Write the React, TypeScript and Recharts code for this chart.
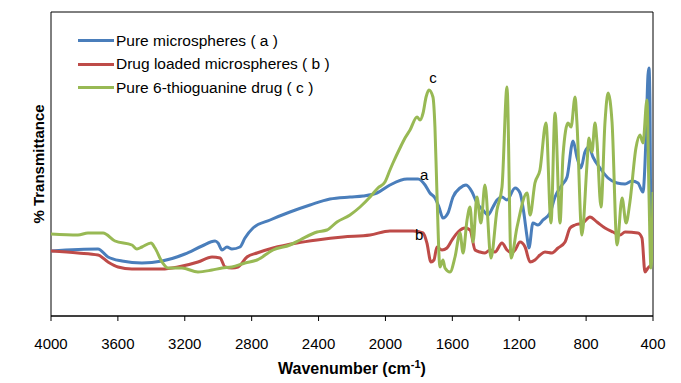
import React from "react";
import {
  LineChart,
  Line,
  XAxis,
  YAxis,
  Legend,
  ReferenceArea,
  ReferenceDot,
} from "recharts";

// wavenumber (cm-1) and transmittance (arbitrary units)
const xTicks = [4000, 3600, 3200, 2800, 2400, 2000, 1600, 1200, 800, 400];

const pureWn = [
  4000, 3719, 3659, 3575, 3456, 3336, 3199, 3097, 3019, 3001, 2977, 2948, 2918,
  2870, 2840, 2792, 2690, 2571, 2451, 2332, 2212, 2134, 2051, 1973, 1871, 1805,
  1763, 1734, 1704, 1680, 1656, 1626, 1596, 1554, 1518, 1482, 1453, 1417, 1387,
  1357, 1333, 1303, 1273, 1225, 1195, 1175, 1153, 1142, 1118, 1088, 1058, 1016,
  986, 944, 914, 878, 855, 831, 807, 783, 759, 717, 669, 615, 567, 526, 490,
  460, 442, 430, 424, 418, 412,
];
const pureT = [
  65, 67, 59, 55, 53, 55, 62, 70, 75, 73, 66, 69, 67, 69, 78, 88, 96, 104, 111,
  117, 119, 120, 123, 131, 137, 137, 131, 123, 118, 109, 98, 103, 119, 128, 131,
  124, 113, 106, 101, 109, 116, 119, 116, 128, 123, 106, 79, 68, 93, 91, 96,
  103, 119, 131, 139, 175, 159, 148, 164, 169, 159, 148, 138, 133, 132, 135,
  133, 124, 178, 241, 248, 211, 58,
];

const loadedWn = [
  4000, 3839, 3719, 3659, 3599, 3516, 3336, 3241, 3121, 3037, 2989, 2959, 2918,
  2882, 2828, 2768, 2672, 2529, 2409, 2254, 2092, 1973, 1835, 1775, 1752, 1728,
  1710, 1692, 1662, 1632, 1602, 1566, 1524, 1494, 1464, 1435, 1405, 1375, 1345,
  1303, 1273, 1243, 1225, 1195, 1165, 1135, 1106, 1076, 1046, 1004, 968, 926,
  896, 866, 819, 777, 735, 687, 639, 597, 567, 490, 466, 448, 430, 412,
];
const loadedT = [
  65, 63, 61, 54, 49, 47, 47, 49, 54, 59, 58, 49, 48, 49, 59, 63, 68, 73, 76,
  79, 81, 85, 85, 83, 73, 54, 56, 69, 66, 68, 76, 84, 88, 86, 66, 64, 63, 66,
  64, 73, 66, 63, 66, 74, 69, 54, 56, 61, 64, 63, 68, 74, 88, 91, 93, 99, 94,
  88, 84, 81, 84, 83, 78, 44, 48, 51,
];

const drugWn = [
  4000, 3839, 3779, 3689, 3617, 3516, 3486, 3456, 3402, 3378, 3336, 3300, 3217,
  3121, 3037, 2977, 2918, 2840, 2768, 2672, 2571, 2511, 2409, 2350, 2290, 2212,
  2152, 2092, 2045, 2003, 1973, 1955, 1913, 1883, 1853, 1811, 1793, 1775, 1757,
  1740, 1716, 1704, 1692, 1674, 1656, 1644, 1614, 1584, 1554, 1536, 1512, 1494,
  1476, 1453, 1429, 1405, 1369, 1333, 1303, 1273, 1249, 1213, 1153, 1135, 1106,
  1076, 1040, 1010, 986, 956, 938, 908, 890, 866, 855, 825, 795, 783, 765, 747,
  735, 711, 687, 669, 645, 615, 585, 561, 538, 502, 478, 460, 436, 424, 412,
  400,
];
const drugT = [
  82, 81, 83, 83, 75, 71, 67, 69, 73, 68, 54, 48, 48, 44, 46, 48, 49, 53, 56,
  66, 71, 76, 84, 86, 94, 101, 109, 119, 128, 134, 146, 153, 168, 178, 186, 199,
  196, 203, 219, 226, 219, 189, 123, 49, 56, 48, 44, 59, 83, 63, 96, 109, 74,
  119, 93, 131, 58, 106, 129, 229, 58, 89, 123, 101, 133, 146, 193, 93, 203, 93,
  161, 193, 189, 219, 194, 81, 151, 178, 164, 193, 174, 109, 194, 223, 194, 71,
  118, 93, 114, 168, 181, 173, 216, 121, 48, 124,
];

const toPoints = (wn: number[], t: number[]) =>
  wn.map((w, i) => ({ wn: w, t: t[i] }));

const series = [
  { name: "Pure microspheres ( a )", color: "#4A7EBB", data: toPoints(pureWn, pureT) },
  { name: "Drug loaded microspheres ( b )", color: "#BE4B48", data: toPoints(loadedWn, loadedT) },
  { name: "Pure 6-thioguanine drug ( c )", color: "#98B954", data: toPoints(drugWn, drugT) },
];

const peakLabels = [
  { text: "c", wn: 1716, t: 238 },
  { text: "a", wn: 1769, t: 141 },
  { text: "b", wn: 1799, t: 81 },
];

const FONT = "'Liberation Sans', Arial, sans-serif";

function LegendBox() {
  return (
    <div style={{ fontFamily: FONT, fontSize: 15.5, textAlign: "left" }}>
      {series.map((s) => (
        <div key={s.name} style={{ display: "flex", alignItems: "center", height: 23.5 }}>
          <div style={{ width: 36, height: 3, background: s.color, marginRight: 2 }} />
          <span style={{ color: "#000" }}>{s.name}</span>
        </div>
      ))}
    </div>
  );
}

export default function App() {
  return (
    <div style={{ position: "relative", width: 681, height: 383, background: "#fff" }}>
      <style>{`body{margin:0}`}</style>
      <LineChart
        width={681}
        height={383}
        margin={{ top: 12, right: 28, left: 51, bottom: 37 }}
      >
        <XAxis
          type="number"
          dataKey="wn"
          domain={[400, 4000]}
          reversed
          ticks={xTicks}
          interval={0}
          allowDataOverflow
          axisLine={{ stroke: "#000", strokeWidth: 1 }}
          tickLine={{ stroke: "#000" }}
          tickSize={5}
          tickMargin={17}
          height={30}
          tick={{ fill: "#000", fontSize: 15, fontFamily: FONT }}
        />
        <YAxis type="number" domain={[0, 304]} hide allowDataOverflow />
        <ReferenceArea
          x1={4000}
          x2={400}
          y1={0}
          y2={304}
          fill="none"
          stroke="#000"
          strokeWidth={1}
          ifOverflow="visible"
        />
        <Legend
          content={() => <LegendBox />}
          layout="horizontal"
          align="center"
          verticalAlign="middle"
          wrapperStyle={{ left: 78, top: 29, width: 290 }}
        />
        {series.map((s) => (
          <Line
            key={s.name}
            data={s.data}
            dataKey="t"
            name={s.name}
            type="monotone"
            stroke={s.color}
            strokeWidth={3}
            dot={false}
            activeDot={false}
            isAnimationActive={false}
          />
        ))}
        {peakLabels.map((p) => (
          <ReferenceDot
            key={p.text}
            x={p.wn}
            y={p.t}
            r={0}
            fill="none"
            stroke="none"
            label={{ value: p.text, position: "center", fill: "#000", fontSize: 15, fontFamily: FONT }}
          />
        ))}
        <text
          x={38}
          y={164}
          transform="rotate(-90 38 164)"
          textAnchor="middle"
          dominantBaseline="central"
          fontFamily={FONT}
          fontWeight="bold"
          fontSize={15}
          fill="#000"
        >
          % Transmittance
        </text>
        <text
          x={352}
          y={374}
          textAnchor="middle"
          fontFamily={FONT}
          fontWeight="bold"
          fontSize={16}
          fill="#000"
        >
          Wavenumber (cm
          <tspan dy={-6} fontSize={11}>-1</tspan>
          <tspan dy={6}>)</tspan>
        </text>
      </LineChart>
    </div>
  );
}
